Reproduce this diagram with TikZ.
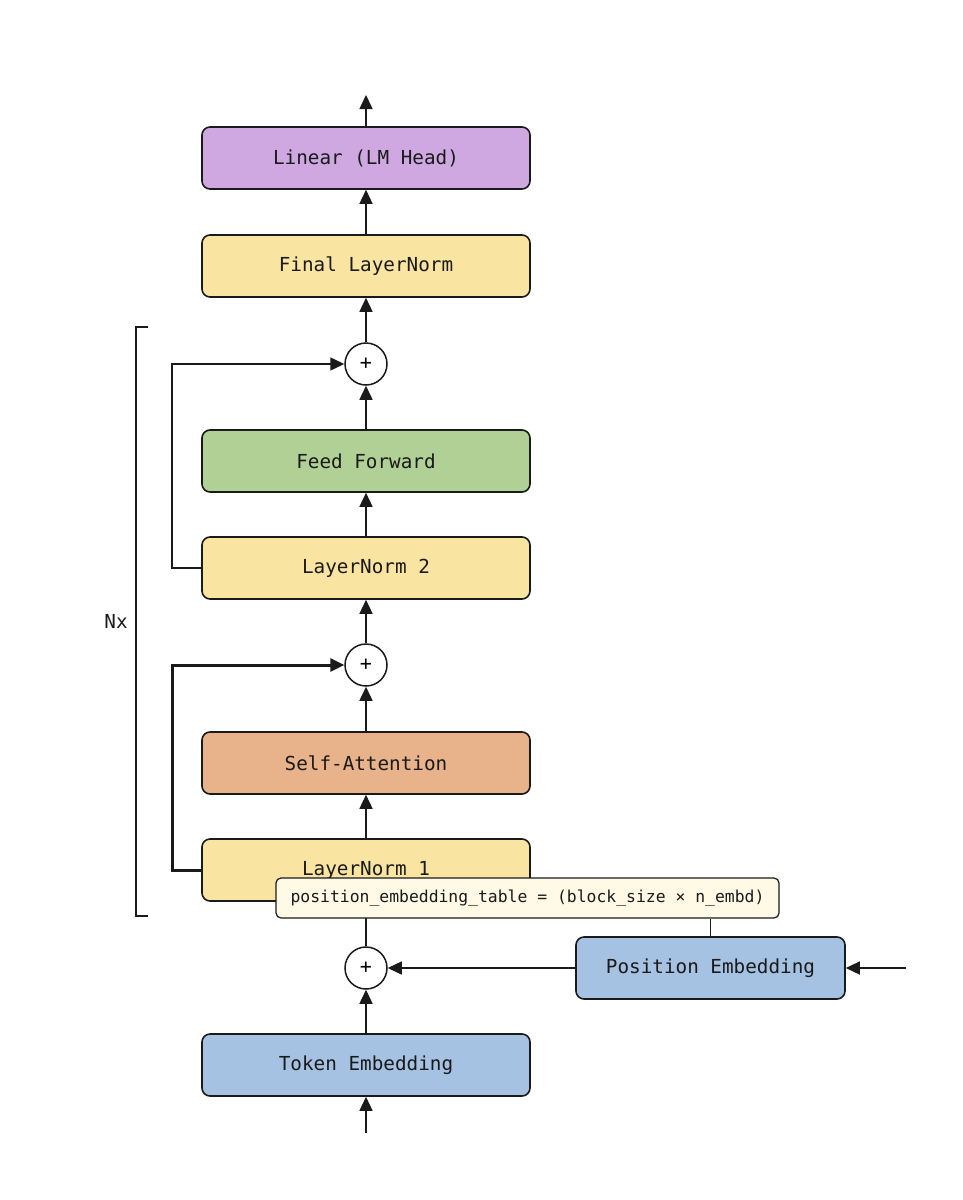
\documentclass[tikz,border=0pt]{standalone}
\usepackage{fontspec}
\setmonofont{DejaVu Sans Mono}
\usetikzlibrary{arrows.meta}
\definecolor{cpurple}{HTML}{CFA8E2}
\definecolor{cyellow}{HTML}{FAE4A2}
\definecolor{cgreen}{HTML}{B1D095}
\definecolor{corange}{HTML}{E8B38A}
\definecolor{cblue}{HTML}{A6C2E3}
\definecolor{ctip}{HTML}{FEFAE6}
\definecolor{cline}{HTML}{1A1A1A}
\tikzset{
  blk/.style={draw=cline, line width=1.6pt, rounded corners=8pt, minimum width=328pt, minimum height=62pt, font=\ttfamily\fontsize{19.3}{21}\selectfont, text=cline, inner sep=0pt},
  addop/.style={circle, draw=cline, line width=1.5pt, fill=white, minimum size=42pt, inner sep=0pt, font=\ttfamily\fontsize{20}{20}\selectfont},
  conn/.style={draw=cline, line width=1.5pt, -{Triangle[length=14pt,width=13pt]}},
  plain/.style={draw=cline, line width=1.5pt},
  tip/.style={draw=cline, line width=1.2pt, rounded corners=5pt, fill=ctip, minimum width=503pt, minimum height=40pt, inner sep=0pt, font=\ttfamily\fontsize{16.4}{18}\selectfont, text=cline}
}
\begin{document}
\begin{tikzpicture}[x=1pt,y=-1pt]
\useasboundingbox (0,0) rectangle (962,1200);
\fill[white] (0,0) rectangle (962,1200);
% nodes
\node[blk, fill=cpurple] (lin) at (366,158) {Linear (LM Head)};
\node[blk, fill=cyellow] (fln) at (366,266) {Final LayerNorm};
\node[addop] (p1) at (366,364) {+};
\node[blk, fill=cgreen] (ff) at (366,461) {Feed Forward};
\node[blk, fill=cyellow] (ln2) at (366,568) {LayerNorm 2};
\node[addop] (p2) at (366,665) {+};
\node[blk, fill=corange] (sa) at (366,763) {Self-Attention};
\node[blk, fill=cyellow] (ln1) at (366,870) {LayerNorm 1};
\node[addop] (p3) at (366,968) {+};
\node[blk, fill=cblue, minimum width=269pt] (pe) at (710.5,968) {Position Embedding};
\node[blk, fill=cblue] (te) at (366,1065) {Token Embedding};
\coordinate (outtop) at (366,95);
\coordinate (inbot) at (366,1133);
\coordinate (inpe) at (906,968);
\coordinate (r1) at (172,870);
\coordinate (r1t) at (172,665);
\coordinate (r2) at (172,568);
\coordinate (r2t) at (172,364);
% connectors
\draw[conn] (lin.north) -- (outtop);
\draw[conn] (fln.north) -- (lin.south);
\draw[conn] (p1.north) -- (fln.south);
\draw[conn] (ff.north) -- (p1.south);
\draw[conn] (ln2.north) -- (ff.south);
\draw[conn] (p2.north) -- (ln2.south);
\draw[conn] (sa.north) -- (p2.south);
\draw[conn] (ln1.north) -- (sa.south);
\draw[conn] (p3.north) -- (ln1.south);
\draw[conn] (te.north) -- (p3.south);
\draw[conn] (inbot) -- (te.south);
\draw[conn] (pe.west) -- (p3.east);
\draw[conn] (inpe) -- (pe.east);
\draw[conn] (ln2.west) -- (r2) -- (r2t) -- (p1.west);
\draw[conn, line width=3pt] (ln1.west) -- (r1) -- (r1t) -- (p2.west);
% bracket
\draw[plain] (148,327) -- (136,327) -- (136,916) -- (148,916);
\node[font=\ttfamily\fontsize{19.3}{21}\selectfont, text=cline] (nx) at (116,621) {Nx};
% tooltip
\node[tip] (tt) at (527.5,898) {position\_embedding\_table = (block\_size × n\_embd)};
\draw[plain, line width=1.2pt] (tt.south -| pe.north) -- (pe.north);
\end{tikzpicture}
\end{document}
